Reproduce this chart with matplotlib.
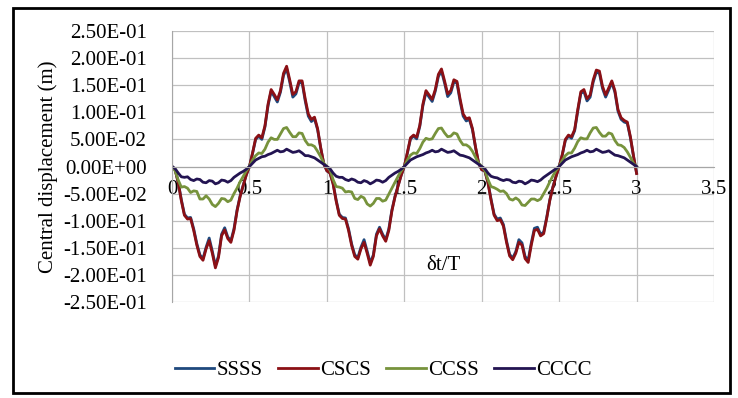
import numpy as np
import matplotlib
matplotlib.use("Agg")
import matplotlib.pyplot as plt
from matplotlib.ticker import FuncFormatter, MultipleLocator
from matplotlib.patches import Rectangle

# delta t / T sample positions (0 to 3, step 0.02)
t = np.linspace(0, 3, 151)

# central displacement (m), one block per period
ssss = [
    0.000, -0.006, -0.029, -0.061, -0.088, -0.095, -0.094, -0.115, -0.142, -0.163,
    -0.170, -0.149, -0.132, -0.156, -0.183, -0.165, -0.125, -0.113, -0.130, -0.137,
    -0.115, -0.080, -0.054, -0.034, -0.015, 0.000,
    0.024, 0.050, 0.056, 0.050, 0.073, 0.112, 0.139, 0.129, 0.119, 0.137,
    0.168, 0.181, 0.156, 0.128, 0.134, 0.154, 0.155, 0.121, 0.093, 0.083,
    0.088, 0.068, 0.034, 0.005, -0.008,
    -0.012, -0.031, -0.062, -0.088, -0.094, -0.095, -0.115, -0.143, -0.163, -0.168,
    -0.149, -0.135, -0.156, -0.178, -0.163, -0.125, -0.112, -0.125, -0.135, -0.115,
    -0.080, -0.055, -0.035, -0.016, 0.000,
    0.025, 0.051, 0.056, 0.051, 0.074, 0.112, 0.137, 0.128, 0.120, 0.139,
    0.166, 0.176, 0.154, 0.129, 0.136, 0.156, 0.154, 0.121, 0.093, 0.084,
    0.087, 0.068, 0.035, 0.006, -0.006,
    -0.008, -0.029, -0.060, -0.088, -0.097, -0.095, -0.107, -0.137, -0.162, -0.169,
    -0.157, -0.135, -0.141, -0.166, -0.173, -0.141, -0.114, -0.112, -0.125, -0.121,
    -0.093, -0.061, -0.037, -0.018, 0.000,
    0.021, 0.048, 0.056, 0.052, 0.066, 0.102, 0.135, 0.138, 0.121, 0.128,
    0.156, 0.174, 0.172, 0.144, 0.128, 0.141, 0.155, 0.137, 0.102, 0.087,
    0.082, 0.080, 0.053, 0.019, -0.012,
]

cscs = [
    0.000, -0.006, -0.030, -0.063, -0.090, -0.097, -0.096, -0.118, -0.145, -0.166,
    -0.173, -0.152, -0.137, -0.160, -0.187, -0.168, -0.128, -0.117, -0.133, -0.140,
    -0.118, -0.082, -0.055, -0.035, -0.015, 0.000,
    0.025, 0.052, 0.058, 0.053, 0.075, 0.115, 0.142, 0.133, 0.123, 0.140,
    0.172, 0.185, 0.160, 0.133, 0.138, 0.158, 0.158, 0.125, 0.097, 0.087,
    0.091, 0.070, 0.035, 0.005, -0.008,
    -0.012, -0.032, -0.064, -0.090, -0.096, -0.097, -0.118, -0.146, -0.166, -0.171,
    -0.152, -0.140, -0.160, -0.182, -0.166, -0.128, -0.115, -0.128, -0.138, -0.118,
    -0.082, -0.056, -0.036, -0.016, 0.000,
    0.026, 0.053, 0.058, 0.054, 0.076, 0.115, 0.140, 0.132, 0.124, 0.142,
    0.170, 0.180, 0.158, 0.134, 0.140, 0.160, 0.157, 0.125, 0.097, 0.088,
    0.090, 0.070, 0.036, 0.006, -0.006,
    -0.008, -0.030, -0.062, -0.090, -0.100, -0.098, -0.110, -0.140, -0.165, -0.172,
    -0.160, -0.140, -0.145, -0.170, -0.177, -0.145, -0.118, -0.116, -0.128, -0.124,
    -0.095, -0.062, -0.038, -0.018, 0.000,
    0.022, 0.050, 0.058, 0.055, 0.068, 0.105, 0.138, 0.142, 0.125, 0.132,
    0.160, 0.178, 0.176, 0.148, 0.132, 0.145, 0.158, 0.140, 0.105, 0.090,
    0.085, 0.082, 0.055, 0.020, -0.013,
]

ccss = [
    0.000, -0.008, -0.025, -0.038, -0.037, -0.040, -0.048, -0.045, -0.046, -0.060,
    -0.060, -0.054, -0.060, -0.070, -0.074, -0.068, -0.059, -0.060, -0.065, -0.062,
    -0.050, -0.040, -0.028, -0.018, -0.008, 0.000,
    0.012, 0.020, 0.025, 0.024, 0.032, 0.045, 0.053, 0.050, 0.050, 0.060,
    0.070, 0.072, 0.063, 0.055, 0.055, 0.062, 0.061, 0.048, 0.040, 0.040,
    0.037, 0.028, 0.018, 0.006, 0.000,
    -0.006, -0.024, -0.037, -0.038, -0.040, -0.047, -0.046, -0.047, -0.059, -0.061,
    -0.055, -0.058, -0.069, -0.073, -0.068, -0.059, -0.059, -0.064, -0.062, -0.051,
    -0.040, -0.029, -0.018, -0.008, 0.000,
    0.012, 0.021, 0.025, 0.024, 0.033, 0.045, 0.052, 0.050, 0.051, 0.061,
    0.070, 0.071, 0.062, 0.055, 0.056, 0.062, 0.060, 0.048, 0.040, 0.040,
    0.036, 0.028, 0.017, 0.006, 0.000,
    -0.007, -0.024, -0.037, -0.039, -0.042, -0.046, -0.045, -0.050, -0.060, -0.062,
    -0.058, -0.062, -0.071, -0.072, -0.066, -0.060, -0.060, -0.063, -0.060, -0.050,
    -0.040, -0.028, -0.017, -0.007, 0.000,
    0.011, 0.020, 0.025, 0.025, 0.034, 0.046, 0.053, 0.051, 0.051, 0.062,
    0.071, 0.072, 0.063, 0.056, 0.056, 0.062, 0.060, 0.048, 0.040, 0.039,
    0.035, 0.027, 0.017, 0.006, 0.000,
]

cccc = [
    0.000, -0.004, -0.012, -0.019, -0.020, -0.019, -0.024, -0.026, -0.023, -0.024,
    -0.029, -0.030, -0.026, -0.027, -0.032, -0.030, -0.025, -0.026, -0.029, -0.026,
    -0.020, -0.016, -0.012, -0.009, -0.005, 0.000,
    0.006, 0.012, 0.015, 0.018, 0.019, 0.022, 0.024, 0.027, 0.030, 0.027,
    0.028, 0.032, 0.029, 0.026, 0.027, 0.029, 0.025, 0.020, 0.020, 0.018,
    0.016, 0.012, 0.008, 0.004, 0.000,
    -0.004, -0.012, -0.018, -0.020, -0.020, -0.024, -0.026, -0.023, -0.025, -0.029,
    -0.030, -0.026, -0.028, -0.032, -0.029, -0.025, -0.026, -0.029, -0.026, -0.020,
    -0.016, -0.012, -0.009, -0.005, 0.000,
    0.006, 0.012, 0.015, 0.018, 0.020, 0.022, 0.025, 0.027, 0.030, 0.027,
    0.028, 0.032, 0.029, 0.026, 0.027, 0.029, 0.025, 0.021, 0.020, 0.018,
    0.016, 0.012, 0.008, 0.004, 0.000,
    -0.004, -0.012, -0.018, -0.020, -0.021, -0.024, -0.026, -0.024, -0.025, -0.029,
    -0.030, -0.027, -0.028, -0.032, -0.029, -0.025, -0.026, -0.028, -0.025, -0.020,
    -0.016, -0.012, -0.008, -0.004, 0.000,
    0.006, 0.012, 0.015, 0.018, 0.020, 0.022, 0.025, 0.027, 0.030, 0.027,
    0.028, 0.032, 0.029, 0.026, 0.027, 0.029, 0.025, 0.021, 0.020, 0.018,
    0.016, 0.012, 0.008, 0.004, 0.000,
]

series = [
    ("SSSS", ssss, "#1F497D"),
    ("CSCS", cscs, "#8B1015"),
    ("CCSS", ccss, "#77933C"),
    ("CCCC", cccc, "#231452"),
]

plt.rcParams["font.family"] = "Liberation Serif"
fs = 15


def sci_label(v, pos):
    v = round(v, 6)
    if v == 0:
        v = 0.0
    return f"{v:.2E}"


fig = plt.figure(figsize=(7.38, 3.98), dpi=100)
ax = fig.add_axes([0.2331, 0.2412, 0.7344, 0.6809])

for name, vals, col in series:
    ax.plot(t, vals, color=col, linewidth=2.0, label=name,
            solid_joinstyle="round")

ax.set_xlim(0, 3.5)
ax.set_ylim(-0.25, 0.25)
ax.xaxis.set_major_locator(MultipleLocator(0.5))
ax.yaxis.set_major_locator(MultipleLocator(0.05))
ax.yaxis.set_major_formatter(FuncFormatter(sci_label))
ax.xaxis.set_major_formatter(FuncFormatter(lambda v, p: f"{v:g}"))

ax.grid(True, color="#C0C0C0", linewidth=0.9)
ax.set_axisbelow(True)
for s in ["top", "right"]:
    ax.spines[s].set_visible(False)
ax.spines["left"].set_color("#A6A6A6")
ax.spines["bottom"].set_position(("data", 0))
ax.spines["bottom"].set_color("#A6A6A6")
ax.tick_params(axis="both", length=0, labelsize=fs)
ax.tick_params(axis="y", pad=18)
ax.tick_params(axis="x", pad=10)

ax.set_ylabel("Central displacement (m)", fontsize=fs, labelpad=4)
ax.text(0.5, 0.133, "δt/T", transform=ax.transAxes, ha="center", va="center",
        fontsize=fs)

fig.legend(loc="center", bbox_to_anchor=(0.519, 0.07), ncol=4, frameon=False,
           fontsize=fs, handlelength=1.9, handletextpad=0.1, columnspacing=0.75)

fig.patches.append(Rectangle((0.017, 0.013), 0.972, 0.968, transform=fig.transFigure,
                             fill=False, edgecolor="black", linewidth=2.0))

fig.savefig("out.png", dpi=100)
